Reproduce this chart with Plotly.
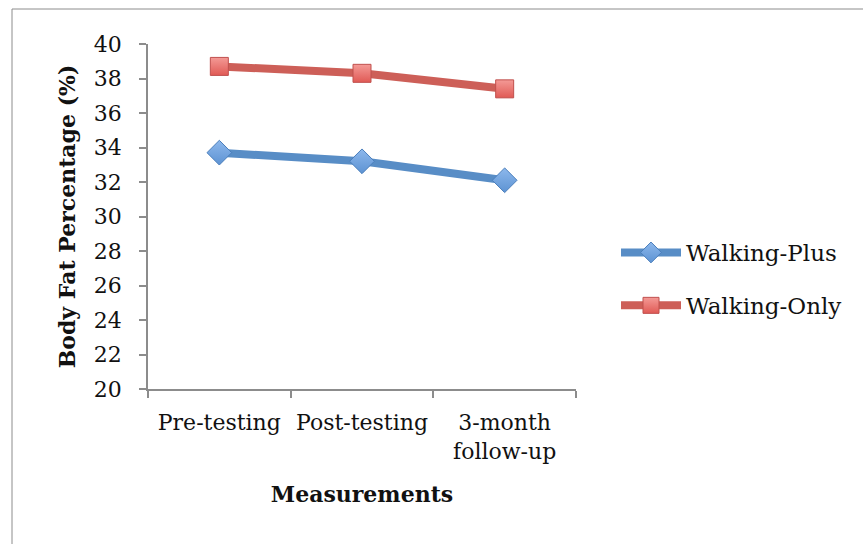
import plotly.graph_objects as go

# Body fat percentage at each measurement point
measurements = ["Pre-testing", "Post-testing", "3-month<br>follow-up"]
walking_plus = [33.7, 33.2, 32.1]
walking_only = [38.7, 38.3, 37.4]
y_ticks = [20, 22, 24, 26, 28, 30, 32, 34, 36, 38, 40]

W, H = 863, 544
L, R, T, B = 148, 287, 44, 155
pw, ph = W - L - R, H - T - B

def px_x(p):
    return (p - L) / pw

def px_y(p):
    return (H - B - p) / ph

FONT = "DejaVu Serif"

fig = go.Figure()
fig.add_trace(go.Scatter(
    x=measurements, y=walking_plus, name="Walking-Plus", mode="lines+markers",
    line=dict(color="#588DC6", width=8),
    marker=dict(symbol="diamond", size=19, color="#8DB8EC",
                gradient=dict(type="vertical", color="#5D93D3"),
                line=dict(color="#4A7EBB", width=1)),
    legendgroup="a",
))
fig.add_trace(go.Scatter(
    x=measurements, y=walking_only, name="Walking-Only", mode="lines+markers",
    line=dict(color="#CD5F58", width=8),
    marker=dict(symbol="square", size=18, color="#F49A96",
                gradient=dict(type="vertical", color="#E05A55"),
                line=dict(color="#C0504D", width=1)),
    legendgroup="b",
))

# Outer chart border
fig.add_shape(type="rect", xref="paper", yref="paper",
              x0=px_x(12), x1=px_x(875), y0=px_y(556), y1=px_y(9),
              line=dict(color="#8C8C8C", width=1), fillcolor="rgba(0,0,0,0)",
              layer="below")

fig.update_layout(
    width=W, height=H,
    margin=dict(l=L, r=R, t=T, b=B, autoexpand=False),
    paper_bgcolor="white", plot_bgcolor="white",
    font=dict(family=FONT, size=22, color="#111111"),
    showlegend=True,
    legend=dict(x=px_x(616), y=px_y(231), xanchor="left", yanchor="top",
                font=dict(family=FONT, size=23, color="#111111"),
                itemwidth=60, tracegroupgap=20, bgcolor="rgba(0,0,0,0)"),
    xaxis=dict(
        type="category", tickson="boundaries", range=[-0.5, 2.5],
        showline=True, linecolor="#8C8C8C", linewidth=1.5,
        ticks="outside", ticklen=7, tickcolor="#8C8C8C", tickwidth=1.5,
        ticklabelstandoff=13,
        showgrid=False, zeroline=False,
        title=dict(text="<b>Measurements</b>", font=dict(family=FONT, size=22), standoff=24),
    ),
    yaxis=dict(
        range=[20, 40], tickvals=y_ticks,
        showline=True, linecolor="#8C8C8C", linewidth=1.5,
        ticks="outside", ticklen=7, tickcolor="#8C8C8C", tickwidth=1.5,
        ticklabelstandoff=13,
        showgrid=False, zeroline=False,
        title=dict(text="<b>Body Fat Percentage (%)</b>", font=dict(family=FONT, size=22), standoff=12),
    ),
)

fig.write_html("out.html")
